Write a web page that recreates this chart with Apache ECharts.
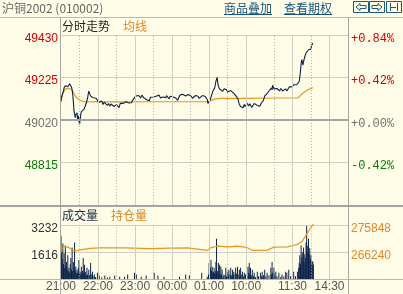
<!DOCTYPE html>
<html><head><meta charset="utf-8">
<script src="https://cdn.jsdelivr.net/npm/echarts@6/dist/echarts.min.js"></script>
<style>html,body{margin:0;padding:0;background:#FFFDE8;overflow:hidden}#c{width:403px;height:294px}</style>
</head><body><div id="c"></div>
<script>
// ---- data: minute index counted from 21:00 (sessions 21:00-01:00, 09:00-10:15, 10:30-11:30, 13:30-15:00) ----
const BASE = 49020;
const pricePoints = [[0,49110],[1,49132],[2,49135],[4,49160],[5,49175],[7,49185],[9,49194],[11,49180],[12,49188],[14,49195],[15,49199],[16,49190],[17,49178],[18,49167],[19,49143],[20,49110],[21,49066],[22,49050],[23,49031],[24,49045],[26,49055],[27,49017],[28,49040],[29,49020],[30,48999],[31,49020],[32,49047],[33,49060],[34,49065],[36,49062],[37,49071],[39,49085],[41,49103],[43,49125],[44,49143],[45,49159],[46,49150],[48,49135],[50,49140],[52,49127],[53,49132],[55,49135],[57,49125],[59,49119],
[61,49105],[62,49111],[64,49100],[66,49112],[68,49095],[70,49106],[72,49098],[73,49103],[75,49090],[77,49100],[79,49087],[81,49097],[82,49090],[84,49095],[86,49085],[88,49079],[90,49094],[92,49092],[94,49080],[96,49100],[97,49103],[99,49092],[101,49100],[103,49095],[105,49108],[107,49100],[108,49111],[110,49102],[112,49110],[114,49103],[116,49115],[118,49108],[119,49119],[121,49135],[122,49143],[124,49130],[126,49138],[127,49135],[129,49126],[131,49140],[132,49135],[134,49128],[136,49124],[138,49119],[140,49128],[141,49119],[143,49113],[145,49130],[146,49135],[148,49125],[150,49131],[152,49124],[154,49135],[155,49127],[157,49130],[159,49140],[161,49126],[163,49119],[165,49131],[166,49140],[168,49135],[170,49128],[171,49138],[173,49130],[175,49122],[177,49135],[179,49143],[181,49132],[182,49138],[184,49135],[186,49126],[188,49119],[189,49115],[191,49130],[193,49140],[195,49135],[197,49144],[199,49138],[200,49146],[202,49136],[204,49143],[206,49143],[207,49150],[209,49135],[211,49135],[213,49125],[214,49131],[216,49127],[218,49138],[220,49130],[222,49135],[224,49124],[226,49132],[227,49127],[229,49138],[231,49130],[233,49135],[235,49126],[237,49119],[238,49100],[239,49092],
[242,49119],[244,49140],[246,49159],[248,49150],[249,49175],[250,49190],[251,49207],[252,49198],[253,49226],[254,49200],[255,49183],[257,49170],[258,49167],[260,49175],[262,49159],[264,49170],[266,49162],[268,49167],[270,49155],[272,49160],[273,49151],[275,49162],[277,49155],[278,49159],[280,49148],[281,49151],[283,49140],[285,49130],[287,49119],[288,49105],[289,49095],[291,49085],[293,49092],[295,49079],[297,49095],[298,49085],[300,49092],[302,49100],[304,49088],[306,49098],[308,49092],[309,49080],[311,49087],[313,49100],[314,49092],[316,49103],[318,49090],[320,49098],[322,49087],[324,49095],[325,49103],[327,49098],[328,49115],[330,49135],[332,49128],[333,49145],[335,49151],[337,49160],[339,49168],[341,49175],[342,49165],[343,49188],[345,49170],[346,49175],[348,49165],[350,49172],[352,49167],[354,49160],[356,49172],[357,49170],[359,49160],[361,49168],[362,49162],[364,49170],[366,49160],[368,49167],[370,49180],[372,49172],[373,49178],[375,49180],[377,49190],[378,49188],[380,49186],[382,49190],[384,49188],[385,49195],[386,49207],[387,49230],[388,49255],[389,49290],[390,49311],[391,49300],[392,49285],[393,49303],[395,49325],[396,49318],[397,49343],[399,49350],[400,49340],[401,49359],[402,49352],[404,49367],[405,49362],[406,49380],[407,49375],[408,49391]];
const avgPoints = [[0,49110],[3,49150],[8,49172],[15,49170],[19,49160],[24,49132],[29,49118],[37,49108],[60,49107],[100,49107],[150,49108],[200,49108],[238,49108],[242,49112],[250,49122],[260,49124],[300,49124],[350,49126],[384,49127],[392,49150],[400,49166],[408,49176]];
const volumePoints = [[0,2600],[1,1800],[2,1200],[3,2130],[4,900],[5,1560],[6,700],[7,2020],[8,800],[9,1040],[10,600],[11,1440],[12,500],[13,690],[14,400],[15,900],[16,1270],[17,600],[18,1900],[19,500],[20,1040],[21,700],[22,2190],[23,500],[24,750],[25,350],[26,580],[27,400],[28,700],[29,1150],[30,400],[31,460],[32,300],[33,750],[34,350],[35,500],[36,1270],[37,400],[38,870],[39,300],[40,460],[41,250],[42,690],[43,300],[45,580],[46,250],[48,980],[49,300],[51,460],[52,200],[54,290],[56,150],[59,400],[62,230],[66,120],[71,230],[75,120],[79,170],[87,230],[95,170],[103,170],[108,290],[119,400],[122,290],[130,170],[138,230],[151,400],[157,230],[167,170],[192,170],[202,290],[208,230],[228,400],[237,170],
[239,300],[240,980],[241,600],[242,700],[243,1150],[244,500],[245,750],[246,400],[247,450],[248,690],[249,350],[250,500],[251,1040],[252,2420],[253,400],[254,500],[255,980],[256,400],[257,870],[258,300],[259,750],[260,300],[261,580],[263,200],[264,290],[266,250],[267,690],[268,200],[270,460],[271,250],[272,580],[274,300],[275,690],[276,250],[278,580],[279,300],[280,460],[282,300],[283,690],[284,350],[286,750],[287,300],[289,580],[290,250],[291,690],[293,300],[294,460],[296,200],[297,400],[299,290],[301,200],[303,750],[304,400],[305,980],[306,300],[307,690],[309,250],[310,580],[312,200],[313,400],[315,150],[318,460],[320,200],[323,400],[325,200],[326,460],[328,250],[330,580],[332,200],[334,400],[337,250],[340,690],[341,300],[342,1040],[343,400],[345,690],[346,300],[348,460],[350,200],[353,400],[356,150],[358,290],[361,200],[364,460],[366,400],[369,580],[372,200],[375,400],[377,460],[380,200],[383,460],[385,700],[386,1000],[387,1440],[388,900],[389,2020],[390,1300],[391,1620],[392,1100],[393,1900],[394,1000],[395,1500],[396,1270],[397,2200],[398,3170],[399,2000],[400,1600],[401,2420],[402,1500],[403,1850],[404,1200],[405,1440],[406,900],[407,1100],[408,1040],[409,870]];
const openInterestPoints = [[0,266240],[3,268060],[11,268060],[17,267270],[23,266750],[27,266930],[36,267270],[47,267610],[63,267780],[103,267780],[144,267510],[176,267720],[205,267780],[237,266930],[243,267850],[253,268370],[270,268130],[286,268370],[302,267850],[310,266930],[334,266930],[345,268060],[367,268130],[383,268990],[391,270120],[399,273000],[407,275680],[409,276100]];
const timeTickMinutes = [0,60,120,180,240,300,375,435];
const timeTickLabels = ['21:00','22:00','23:00','00:00','01:00','10:00','11:30','14:30'];
const solidGridMinutes = [60,120,180,240,300,375,435];
const dottedGridMinutes = [30,90,150,210,270,345,405];
const priceTicks = [48815,49020,49225,49430];
const oiTicks = [266240,275848];

const RED='#d40000', GREEN='#0a7a0a', GRAY='#707070', ORANGE='#e0882a', NAVY='#0b2348';
const GRID='#cfcfc4';
const vLines = solidGridMinutes.map(m=>({xAxis:m,lineStyle:{color:GRID,type:'solid',width:1}}))
  .concat(dottedGridMinutes.map(m=>({xAxis:m,lineStyle:{color:'#b4b4aa',type:[1,2],width:1}})));
const ml = (extra)=>({silent:true,symbol:['none','none'],label:{show:false},animation:false,emphasis:{disabled:true},data:vLines.concat(extra||[])});
const uiFont='"Noto Sans CJK SC"';
const lab = v=>'{p|'+v+'}';
const rich = {p:{padding:[7,0,0,0]}};

const chart = echarts.init(document.getElementById('c'), null, {renderer:'canvas'});
chart.setOption({
  animation:false,
  backgroundColor:'#FFFDE8',
  grid:[{left:61,top:35,width:287,height:170},{left:61,top:225,width:287,height:54.5}],
  xAxis:[
    {gridIndex:0,type:'value',min:0,max:465,show:false},
    {gridIndex:1,type:'value',min:0,max:465,interval:15,axisLine:{show:false},axisTick:{show:false},splitLine:{show:false},
     axisLabel:{margin:1,color:'#555',fontSize:12,fontFamily:'"Liberation Sans"',
       formatter:v=>{const i=timeTickMinutes.indexOf(v);return i>=0?timeTickLabels[i]:'';}}}
  ],
  yAxis:[
    {gridIndex:0,type:'value',position:'left',min:48610,max:49430,axisLine:{show:false},axisTick:{show:false},splitLine:{show:false},
     axisLabel:{customValues:priceTicks,margin:3,fontSize:12,fontFamily:'"Liberation Sans"',formatter:lab,rich:rich,
       color:v=>{v=+v;return v>BASE?RED:(v<BASE?GREEN:GRAY);}}},
    {gridIndex:0,type:'value',position:'right',min:-0.84,max:0.84,interval:0.42,axisLine:{show:false},axisTick:{show:false},
     splitLine:{show:true,lineStyle:{color:GRID,width:1}},
     axisLabel:{showMinLabel:false,margin:3,fontSize:12,fontFamily:'"Liberation Mono"',rich:rich,
       formatter:v=>lab((v>=0?'+':'')+v.toFixed(2)+'%'),
       color:v=>{v=+v;return v>0.001?RED:(v<-0.001?GREEN:GRAY);}}},
    {gridIndex:1,type:'value',position:'left',min:0,max:3232,interval:1616,axisLine:{show:false},axisTick:{show:false},
     splitLine:{show:true,lineStyle:{color:GRID,width:1}},
     axisLabel:{showMinLabel:false,margin:3,fontSize:12,fontFamily:'"Liberation Sans"',color:'#333',formatter:lab,rich:rich}},
    {gridIndex:1,type:'value',position:'right',min:256632,max:275848,axisLine:{show:false},axisTick:{show:false},splitLine:{show:false},
     axisLabel:{customValues:oiTicks,margin:3,fontSize:12,fontFamily:'"Liberation Sans"',color:ORANGE,formatter:lab,rich:rich}}
  ],
  series:[
    {type:'line',xAxisIndex:0,yAxisIndex:0,data:[[0,BASE]],showSymbol:false,lineStyle:{opacity:0},z:1,silent:true,
     markLine:ml([{yAxis:BASE,lineStyle:{color:'#a4a4a4',type:'solid',width:2}}])},
    {type:'line',xAxisIndex:0,yAxisIndex:0,data:avgPoints,showSymbol:false,lineStyle:{color:'#e8961e',width:1.2},z:3},
    {type:'line',xAxisIndex:0,yAxisIndex:0,data:pricePoints,showSymbol:false,lineStyle:{color:NAVY,width:1.1},z:4},
    {type:'line',xAxisIndex:1,yAxisIndex:2,data:[[0,0]],showSymbol:false,lineStyle:{opacity:0},z:1,silent:true,markLine:ml()},
    {type:'bar',xAxisIndex:1,yAxisIndex:2,data:volumePoints,barWidth:1,itemStyle:{color:NAVY},z:3},
    {type:'line',xAxisIndex:1,yAxisIndex:3,data:openInterestPoints,showSymbol:false,clip:false,lineStyle:{color:'#e8961e',width:1.2},z:4}
  ],
  graphic:[
    {type:'line',shape:{x1:0,y1:17.5,x2:403,y2:17.5},style:{stroke:'#b8b8b0',lineWidth:1},z:10},
    {type:'line',shape:{x1:60.5,y1:17,x2:60.5,y2:294},style:{stroke:'#a8a8a0',lineWidth:1},z:10},
    {type:'line',shape:{x1:348.5,y1:17,x2:348.5,y2:294},style:{stroke:'#a8a8a0',lineWidth:1},z:10},
    {type:'line',shape:{x1:0,y1:206,x2:403,y2:206},style:{stroke:'#a4a4a0',lineWidth:2},z:10},
    {type:'line',shape:{x1:0,y1:279.5,x2:403,y2:279.5},style:{stroke:'#b8b8b0',lineWidth:1},z:10},
    {type:'text',left:2,top:2,style:{text:'沪铜2002 (010002)',fill:'#666',font:'12px '+uiFont}},
    {type:'text',left:224,top:2,style:{text:'商品叠加',fill:'#16527c',font:'12px '+uiFont}},
    {type:'line',shape:{x1:224,y1:14.5,x2:272,y2:14.5},style:{stroke:'#16527c',lineWidth:1}},
    {type:'text',left:284,top:2,style:{text:'查看期权',fill:'#16527c',font:'12px '+uiFont}},
    {type:'line',shape:{x1:284,y1:14.5,x2:332,y2:14.5},style:{stroke:'#16527c',lineWidth:1}},
    {type:'rect',shape:{x:353.5,y:1.5,width:15,height:11},style:{fill:'none',stroke:'#1c5a80',lineWidth:1}},
    {type:'polygon',shape:{points:[[356,7],[360,3.5],[360,5.5],[366,5.5],[366,8.5],[360,8.5],[360,10.5]]},style:{fill:'none',stroke:'#1c5a80',lineWidth:1}},
    {type:'rect',shape:{x:369.5,y:1.5,width:15,height:11},style:{fill:'none',stroke:'#1c5a80',lineWidth:1}},
    {type:'polygon',shape:{points:[[382,7],[378,3.5],[378,5.5],[372,5.5],[372,8.5],[378,8.5],[378,10.5]]},style:{fill:'none',stroke:'#1c5a80',lineWidth:1}},
    {type:'rect',shape:{x:386.5,y:1.5,width:15,height:11},style:{fill:'none',stroke:'#1c5a80',lineWidth:1}},
    {type:'polyline',shape:{points:[[390.5,3],[390.5,11]]},style:{stroke:'#1c5a80',lineWidth:1}},
    {type:'polyline',shape:{points:[[390.5,7.5],[396,7.5]]},style:{stroke:'#1c5a80',lineWidth:1}},
    {type:'polyline',shape:{points:[[397.5,3],[397.5,11]]},style:{stroke:'#1c5a80',lineWidth:1}},
    {type:'text',left:62,top:20,style:{text:'分时走势',fill:'#222',font:'12px '+uiFont}},
    {type:'text',left:123,top:20,style:{text:'均线',fill:'#e0882a',font:'12px '+uiFont}},
    {type:'text',left:62,top:209,style:{text:'成交量',fill:'#1a2a40',font:'12px '+uiFont}},
    {type:'text',left:111,top:209,style:{text:'持仓量',fill:'#e0882a',font:'12px '+uiFont}}
  ]
});
</script></body></html>
